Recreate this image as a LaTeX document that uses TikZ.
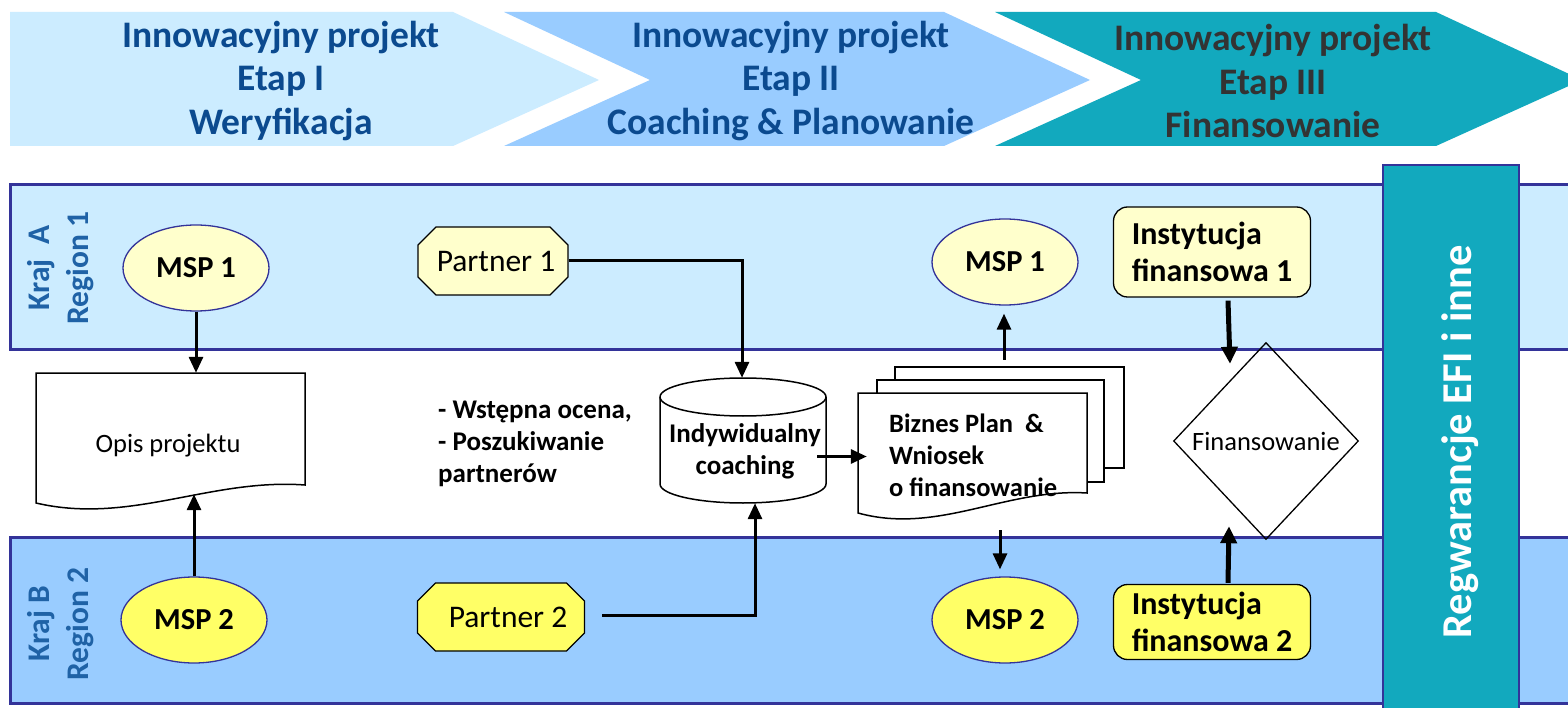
\documentclass[tikz,border=0pt]{standalone}
\usepackage{fontspec}
\setmainfont{Carlito}
\usetikzlibrary{arrows.meta,shapes.misc,shapes.geometric,calc}
\definecolor{laneA}{HTML}{CCECFF}
\definecolor{laneB}{HTML}{99CCFF}
\definecolor{tealbar}{HTML}{12A9BE}
\definecolor{lanebd}{HTML}{333399}
\definecolor{hdrblue}{HTML}{0B4A8F}
\definecolor{hdrgray}{HTML}{333333}
\definecolor{lblblue}{HTML}{1F62A6}
\definecolor{paleY}{HTML}{FFFFCC}
\definecolor{brightY}{HTML}{FFFF66}
\begin{document}
\begin{tikzpicture}[x=1pt,y=-1pt,
  hdr/.style={align=center,font=\bfseries\fontsize{37.5}{43.5}\selectfont},
  lanelbl/.style={rotate=90,align=center,text=lblblue,font=\bfseries\fontsize{31.5}{39}\selectfont},
  lane/.style={draw=lanebd,line width=3pt},
  msp/.style={ellipse,draw=lanebd,line width=1.3pt,minimum width=146pt,minimum height=86pt,inner sep=0pt,font=\bfseries\fontsize{30.5}{36}\selectfont},
  partner/.style={chamfered rectangle,chamfered rectangle xsep=9pt,chamfered rectangle ysep=9pt,draw=black,line width=1.2pt,minimum height=68pt,inner sep=0pt,font=\fontsize{31.5}{36}\selectfont},
  inst/.style={rectangle,rounded corners=14pt,draw=black,line width=1.3pt,minimum width=197pt,align=left,inner sep=0pt,font=\bfseries\fontsize{32}{37}\selectfont},
  docline/.style={draw=black,line width=1.5pt,fill=white},
  box/.style={draw=none,inner sep=0pt},
  btxt/.style={align=left,inner sep=0pt,font=\bfseries\fontsize{27}{32}\selectfont},
  arr/.style={line width=3pt,-{Triangle[length=16pt,width=14pt]}},
  bigarr/.style={line width=5pt,-{Triangle[length=17pt,width=16pt]}}
]
\useasboundingbox (0,0) rectangle (1568,708);
\clip (0,0) rectangle (1568,708);
\fill[white] (0,0) rectangle (1568,708);

% banners
\fill[laneA] (10,12) -- (453,12) -- (599,80) -- (453,146) -- (10,146) -- cycle;
\fill[laneB] (504,12) -- (944,12) -- (1090,80) -- (944,146) -- (504,146) -- (650,80) -- cycle;
\fill[tealbar] (995,12) -- (1436,12) -- (1582,80) -- (1436,146) -- (995,146) -- (1141,80) -- cycle;
\node[hdr,text=hdrblue] (h1) at (281,81) {Innowacyjny projekt\\Etap I\\Weryfikacja};
\node[hdr,text=hdrblue] (h2) at (791,81) {Innowacyjny projekt\\Etap II\\Coaching \& Planowanie};
\node[hdr,text=hdrgray] (h3) at (1273,81) {Innowacyjny projekt\\Etap III\\Finansowanie};

% lanes
\draw[lane,fill=laneA] (10,185) rectangle (1600,350);
\draw[lane,fill=laneB] (10,537) rectangle (1600,703);
\node[lanelbl] (lA) at (61,268) {Kraj\ \ A\\Region 1};
\node[lanelbl] (lB) at (61,624) {Kraj B\\Region 2};

% vertical bar
\draw[draw=lanebd,line width=2pt,fill=tealbar] (1383,165) rectangle (1519,730);
\node[rotate=90,text=white,font=\bfseries\fontsize{42.5}{50}\selectfont] (reg) at (1460,442) {Regwarancje EFI i inne};

% ellipses
\node[msp,fill=paleY] (msp1a) at (196,268) {MSP 1};
\node[msp,fill=brightY] (msp2a) at (194,620) {MSP 2};
\node[msp,fill=paleY] (msp1b) at (1005,262) {MSP 1};
\node[msp,fill=brightY] (msp2b) at (1005,620) {MSP 2};

% partners
\node[partner,fill=paleY,minimum width=150pt] (p1) at (493,261) {\hspace*{6pt}Partner 1};
\node[partner,fill=brightY,minimum width=167pt] (p2) at (501,617) {\hspace*{14pt}Partner 2};

% Opis projektu document
\draw[docline] (36,373) -- (305,373) -- (305,485) .. controls (210,478) and (130,525) .. (36,503) -- cycle;
\node[box,minimum width=269pt,minimum height=121pt] (opisbox) at (170.5,433.5) {};
\node[font=\fontsize{26.5}{30}\selectfont] (opis) at (168,446) {Opis projektu};

% middle text
\node[btxt,anchor=west] (wst) at (438,444) {- Wstępna ocena,\\- Poszukiwanie\\partnerów};

% cylinder
\draw[docline] (660,397) -- (660,484) arc[start angle=180,end angle=0,x radius=83,y radius=19] -- (826,397) arc[start angle=0,end angle=-180,x radius=83,y radius=19] -- cycle;
\draw[docline,fill=none] (660,397) arc[start angle=180,end angle=0,x radius=83,y radius=19];
\node[box,minimum width=166pt,minimum height=125pt] (cyl) at (743,440.5) {};
\node[btxt,align=center] (cyltxt) at (745,451) {Indywidualny\\coaching};

% document stack
\draw[docline] (895,367) rectangle (1124,468);
\draw[docline] (877,380) rectangle (1104,482);
\draw[docline] (858,393) -- (1087,393) -- (1087,493) .. controls (1006,488) and (938,535) .. (858,513) -- cycle;
\node[box,minimum width=266pt,minimum height=148pt] (stack) at (991,441) {};
\node[btxt,anchor=west,font=\bfseries\fontsize{26.5}{32}\selectfont] (bp) at (889,455) {Biznes Plan\ \ \&\\Wniosek\\o finansowanie};

% institutions
\node[inst,fill=paleY,minimum height=90pt] (inst1) at (1212,252) {Instytucja\\finansowa 1};
\node[inst,fill=brightY,minimum height=75pt] (inst2) at (1212,622) {Instytucja\\finansowa 2};

% diamond
\node[box,minimum width=184pt,minimum height=196pt,font=\fontsize{26.5}{30}\selectfont] (fin) at (1266,441) {\raisebox{-6pt}{Finansowanie}};
\draw[draw=black,line width=1.3pt] (fin.north) -- (fin.east) -- (fin.south) -- (fin.west) -- cycle;

% connectors
\draw[arr] (msp1a.south) -- (msp1a.south |- opisbox.north);
\draw[arr] (msp2a.north) -- (msp2a.north |- opisbox.south);
\draw[arr] (p1.east) -| ($(cyl.north)+(-1,0)$);
\draw[arr] ($(p2.east)+(17,-2)$) -| ($(cyl.south)+(12,0)$);
\draw[arr] ($(cyl.east)+(-9,16)$) coordinate (c1) -- ($(c1 -| stack.west)+(9,0)$);
\draw[arr] (msp1b.south |- stack.north) ++(-1,-7) -- ($(msp1b.south)+(-1,8)$);
\draw[arr] ($(msp2b.north |- stack.south)+(-5,15)$) -- ($(msp2b.north)+(-5,-7)$);
\draw[bigarr] ($(inst1.south)+(16,3)$) -- ($(fin.north)+(-36,21)$);
\draw[bigarr] ($(inst2.north)+(16,-1)$) -- ($(fin.south)+(-37,-13)$);
\end{tikzpicture}
\end{document}
